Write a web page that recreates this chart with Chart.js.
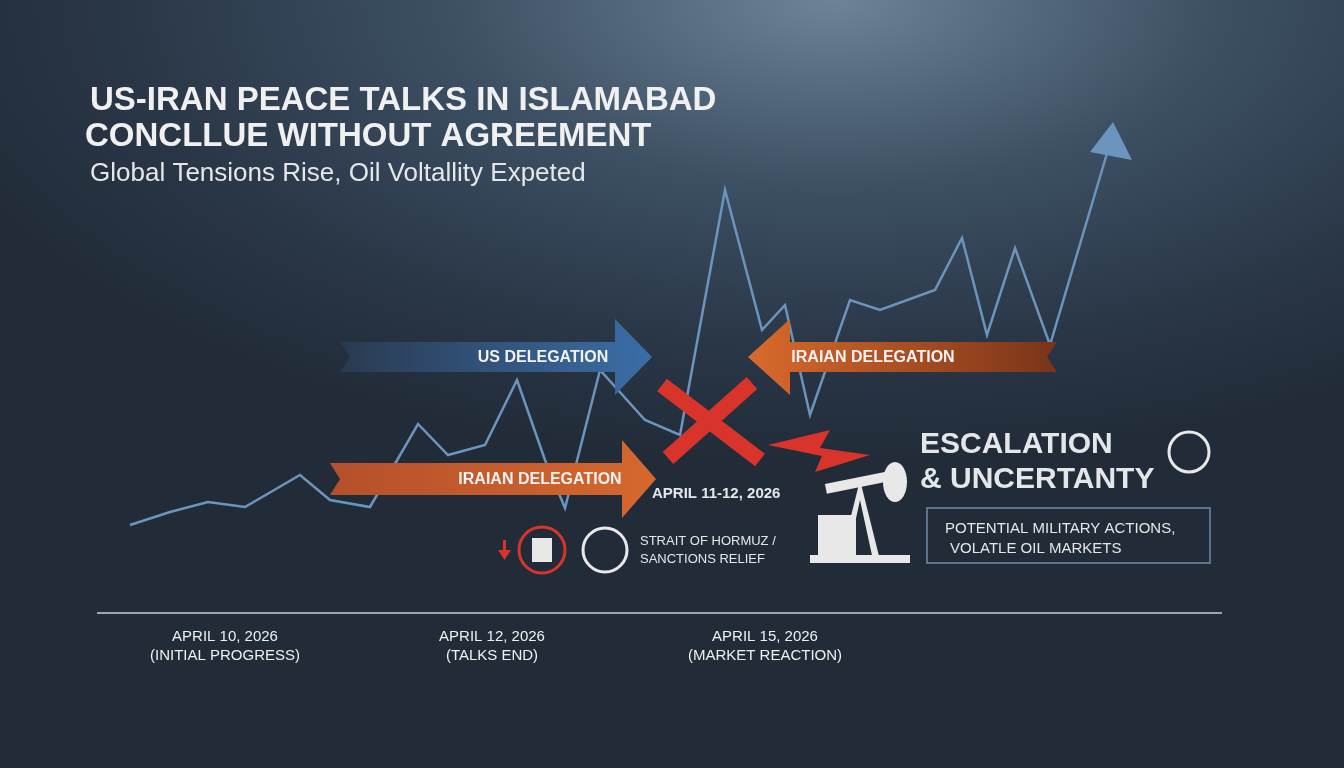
<!DOCTYPE html>
<html><head><meta charset="utf-8">
<script src="https://cdn.jsdelivr.net/npm/chart.js@4.4.0/dist/chart.umd.min.js"></script>
<style>
html,body{margin:0;padding:0;width:1344px;height:768px;overflow:hidden;
background:radial-gradient(ellipse 70% 60% at 62% 0%, #6e8398 0%, #3d5064 40%, #2a3747 75%, #222c39 100%);}
#wrap{position:absolute;left:0;top:0;width:1344px;height:768px}
</style></head><body>
<div id="wrap"><canvas id="myChart"></canvas></div>
<script>
// price-like line (x = horizontal position, y = index level)
const lineX = [130,170,208,245,300,330,370,418,448,485,517,545,565,600,645,680,725,762,785,810,850,880,935,962,987,1015,1050,1108];
const lineY = [243,256,266,261,293,268,261,344,313,323,388,308,260,398,348,333,578,438,463,353,468,458,478,530,433,520,423,618];
const timelineLabels = ['APRIL 10, 2026','APRIL 12, 2026','APRIL 15, 2026'];
const timelineNotes = ['(INITIAL PROGRESS)','(TALKS END)','(MARKET REACTION)'];
const timelineX = [225,492,765];

let ctx = document.getElementById("myChart").getContext('2d');

function banner(c, x0, x1, tip, yc, h, hh, col1, col2, text, tx){
    c.save();
    let g = c.createLinearGradient(x0,0,tip,0);
    g.addColorStop(0,col1); g.addColorStop(1,col2);
    c.fillStyle = g;
    c.beginPath();
    c.moveTo(x0, yc-h/2); c.lineTo(x1, yc-h/2); c.lineTo(x1, yc-hh/2); c.lineTo(tip, yc);
    c.lineTo(x1, yc+hh/2); c.lineTo(x1, yc+h/2); c.lineTo(x0, yc+h/2);
    c.lineTo(x0+(x1>x0?10:-10), yc); c.closePath(); c.fill();
    c.fillStyle = '#f2f2f2'; c.font = '600 16px "Liberation Sans", Arial';
    c.textAlign = 'center'; c.textBaseline = 'middle';
    c.fillText(text, tx, yc+1);
    c.restore();
}

const decor = {
    id: 'decor',
    afterDatasetsDraw(chart){
        const c = chart.ctx;
        // arrow head at end of line
        c.save();
        c.fillStyle = '#6b95bd';
        c.beginPath(); c.moveTo(1113,122); c.lineTo(1132,160); c.lineTo(1090,152); c.closePath(); c.fill();
        c.restore();

        banner(c, 340, 615, 652, 357, 30, 76, '#2a3a50', '#3a6ea8', 'US DELEGATION', 543);
        banner(c, 1057, 790, 748, 357, 30, 76, '#7a3418', '#d96a2c', 'IRAIAN DELEGATION', 873);
        banner(c, 330, 622, 656, 479, 32, 78, '#b4502a', '#d6682e', 'IRAIAN DELEGATION', 540);

        // red X
        c.save();
        c.strokeStyle = '#d8342c'; c.lineWidth = 16; c.lineCap = 'butt';
        c.beginPath(); c.moveTo(662,385); c.lineTo(760,460); c.moveTo(752,383); c.lineTo(668,458); c.stroke();
        // lightning bolt
        c.fillStyle = '#d8342c';
        c.beginPath(); c.moveTo(768,445); c.lineTo(830,430); c.lineTo(820,448); c.lineTo(870,455);
        c.lineTo(815,472); c.lineTo(822,456); c.closePath(); c.fill();
        c.restore();

        c.save();
        c.fillStyle = '#f0f0f0';
        c.font = 'bold 33px "Liberation Sans", Arial';
        c.fillText('US-IRAN PEACE TALKS IN ISLAMABAD', 90, 110);
        c.fillText('CONCLLUE WITHOUT AGREEMENT', 85, 146);
        c.font = '26px "Liberation Sans", Arial';
        c.fillStyle = '#e4e7ea';
        c.fillText('Global Tensions Rise, Oil Voltallity Expeted', 90, 181);

        c.font = '600 15px "Liberation Sans", Arial';
        c.fillText('APRIL 11-12, 2026', 652, 498);
        c.font = '13px "Liberation Sans", Arial';
        c.fillText('STRAIT OF HORMUZ /', 640, 545);
        c.fillText('SANCTIONS RELIEF', 640, 563);

        c.font = 'bold 30px "Liberation Sans", Arial';
        c.fillText('ESCALATION', 920, 453);
        c.fillText('& UNCERTANTY', 920, 488);
        c.strokeStyle = '#6f8aa8'; c.lineWidth = 1.5;
        c.strokeRect(927, 508, 283, 55);
        c.font = '15px "Liberation Sans", Arial';
        c.fillText('POTENTIAL MILITARY ACTIONS,', 945, 533);
        c.fillText('VOLATLE OIL MARKETS', 950, 553);

        // icons
        c.strokeStyle = '#d8342c'; c.lineWidth = 3;
        c.beginPath(); c.arc(542,550,23,0,Math.PI*2); c.stroke();
        c.fillStyle = '#e8e8e8'; c.fillRect(532,538,20,24);
        c.fillStyle = '#d8342c';
        c.fillRect(503,540,3,12);
        c.beginPath(); c.moveTo(498,550); c.lineTo(511,550); c.lineTo(504.5,560); c.closePath(); c.fill();
        c.strokeStyle = '#e8e8e8';
        c.beginPath(); c.arc(605,550,22,0,Math.PI*2); c.stroke();
        c.beginPath(); c.arc(1189,452,20,0,Math.PI*2); c.stroke();
        // pump jack
        c.fillStyle = '#e8e8e8';
        c.fillRect(810,555,100,8); c.fillRect(818,515,38,40);
        c.beginPath(); c.moveTo(840,560); c.lineTo(860,480); c.lineTo(880,560); c.lineTo(873,560); c.lineTo(860,500); c.lineTo(847,560); c.closePath(); c.fill();
        c.save(); c.translate(870,480); c.rotate(-0.2); c.fillRect(-45,-5,80,10); c.restore();
        c.beginPath(); c.ellipse(895,482,12,20,0,0,Math.PI*2); c.fill();

        // timeline
        c.strokeStyle = '#c8ced6'; c.lineWidth = 1.5;
        c.beginPath(); c.moveTo(97,613); c.lineTo(1222,613); c.stroke();
        c.fillStyle = '#eef0f2'; c.font = '15px "Liberation Sans", Arial'; c.textAlign = 'center';
        for (let i = 0; i < timelineLabels.length; i++) {
            c.fillText(timelineLabels[i], timelineX[i], 641);
            c.fillText(timelineNotes[i], timelineX[i], 660);
        }
        c.restore();
    }
};

let myChart = new Chart(ctx, {
    type: 'line',
    data: {
        datasets: [{
            data: lineX.map((x, i) => ({x: x, y: lineY[i]})),
            borderColor: '#6b95bd',
            borderWidth: 2.5,
            pointRadius: 0,
            tension: 0,
            fill: false
        }]
    },
    options: {
        responsive: true,
        maintainAspectRatio: false,
        animation: false,
        layout: {padding: 0},
        plugins: {legend: {display: false}, tooltip: {enabled: false}},
        scales: {
            x: {type: 'linear', min: 0, max: 1344, display: false},
            y: {min: 0, max: 768, display: false}
        }
    },
    plugins: [decor]
});
</script>
</body></html>
